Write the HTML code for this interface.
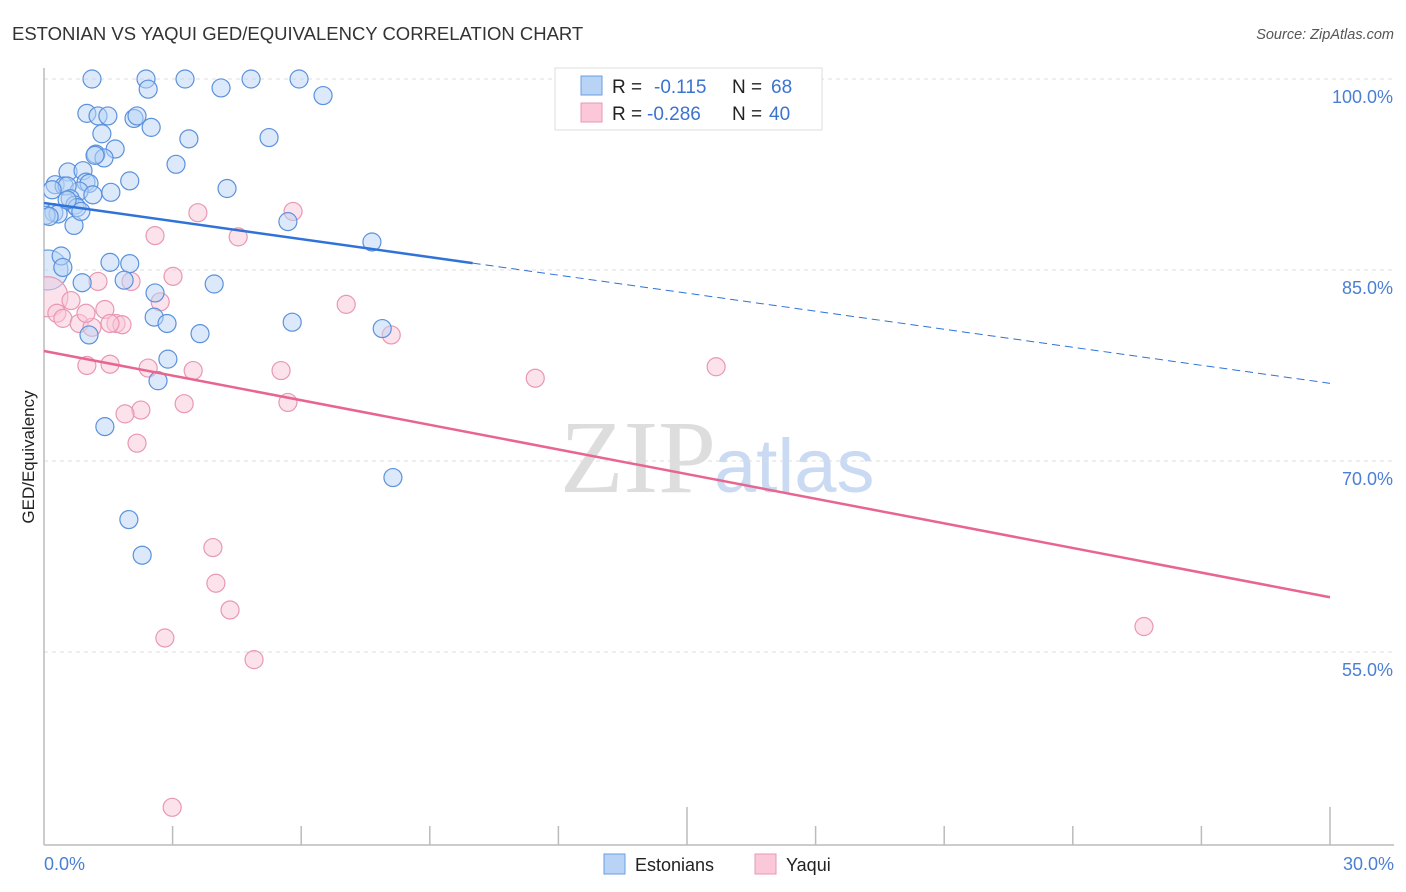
<!DOCTYPE html>
<html><head><meta charset="utf-8"><style>
body{margin:0;background:#fff;font-family:"Liberation Sans",sans-serif;}
#wrap{position:relative;width:1406px;height:892px;overflow:hidden;}
</style></head><body>
<div id="wrap">
<svg id="chart" width="1406" height="892" xmlns="http://www.w3.org/2000/svg">
<defs><clipPath id="plotclip"><rect x="44" y="40" width="1360" height="805"/></clipPath></defs>
<text x="12" y="40" font-size="18.5" fill="#333">ESTONIAN VS YAQUI GED/EQUIVALENCY CORRELATION CHART</text>
<text x="1394" y="39" font-size="14.5" fill="#555" font-style="italic" text-anchor="end">Source: ZipAtlas.com</text>
<text x="716" y="492" font-size="104" fill="#ddd" text-anchor="end" font-family="Liberation Serif,serif">ZIP</text>
<text x="714" y="492" font-size="76" fill="#c9daf2">atlas</text>
<g id="grid"></g>
<g id="ticks"></g>
<g id="pts" clip-path="url(#plotclip)"></g>
<g id="lines"></g>
<text transform="translate(34,457) rotate(-90)" font-size="17" fill="#222" text-anchor="middle">GED/Equivalency</text>
<text x="44" y="870" font-size="18" fill="#4a7fd4">0.0%</text>
<text x="1394" y="870" font-size="18" fill="#4a7fd4" text-anchor="end">30.0%</text>
<g>
<rect x="555" y="68" width="267" height="62" fill="#fff" stroke="#ddd"/>
<rect x="581" y="76" width="21" height="19" fill="#b8d3f5" stroke="#6a9de0"/>
<rect x="581" y="103" width="21" height="19" fill="#fac8d8" stroke="#e898b2"/>
<text x="612" y="93" font-size="19" fill="#222">R = </text>
<text x="654" y="93" font-size="19" fill="#3b73d0">-0.115</text>
<text x="732" y="93" font-size="19" fill="#222">N = </text>
<text x="771" y="93" font-size="19" fill="#3b73d0">68</text>
<text x="612" y="120" font-size="19" fill="#222">R = </text>
<text x="647" y="120" font-size="19" fill="#3b73d0">-0.286</text>
<text x="732" y="120" font-size="19" fill="#222">N = </text>
<text x="769" y="120" font-size="19" fill="#3b73d0">40</text>
</g>
<g>
<rect x="604" y="854" width="21" height="20" fill="#b8d3f5" stroke="#6a9de0"/>
<text x="635" y="871" font-size="18" fill="#222">Estonians</text></g>
<g>
<rect x="755" y="854" width="21" height="20" fill="#fac8d8" stroke="#e898b2"/>
<text x="786" y="871" font-size="18" fill="#222">Yaqui</text></g>
</svg>
</div>
<script>
const yTicks=[100,85,70,55];
const yTickLabels=["100.0%","85.0%","70.0%","55.0%"];
const blueX=[1.12,2.38,3.29,4.83,5.95,2.43,4.13,6.51,1.0,1.26,1.49,2.1,2.17,2.5,1.35,3.38,5.25,1.21,1.66,1.4,3.08,0.56,0.91,0.26,0.47,0.98,1.05,2.0,4.27,0.82,0.54,1.14,1.56,0.61,0.72,0.23,0.33,0.05,0.77,5.69,0.7,7.65,0.4,0.44,1.54,2.0,0.89,1.87,3.97,2.59,2.57,2.87,5.79,1.05,3.64,7.89,2.89,2.66,1.42,8.14,1.98,2.29,0.12,0.19,0.86,1.19,0.54];
const blueY=[100,100,100,100,100,99.2,99.3,98.7,97.3,97.1,97.1,96.9,97.1,96.2,95.7,95.3,95.4,94.1,94.5,93.8,93.3,92.7,92.8,91.7,91.6,91.9,91.8,92.0,91.4,91.2,91.6,90.9,91.1,90.6,90.1,89.5,89.4,89.3,89.9,88.8,88.5,87.2,86.1,85.2,85.6,85.5,84.0,84.2,83.9,83.2,81.3,80.8,80.9,79.9,80.0,80.4,78.0,76.3,72.7,68.7,65.4,62.6,89.2,91.3,89.6,94.0,90.5];
const pinkX=[3.59,5.81,2.59,4.53,3.01,1.26,2.03,0.63,2.71,7.05,1.42,0.3,0.44,0.82,1.12,1.68,1.82,8.1,1.0,1.54,2.43,3.48,5.53,11.46,15.68,3.27,5.69,2.26,1.89,2.17,3.94,4.01,4.34,2.82,4.9,2.99,25.66,0.98,1.54];
const pinkY=[89.5,89.6,87.7,87.6,84.5,84.1,84.1,82.6,82.5,82.3,81.9,81.6,81.2,80.8,80.5,80.8,80.7,79.9,77.5,77.6,77.3,77.1,77.1,76.5,77.4,74.5,74.6,74.0,73.7,71.4,63.2,60.4,58.3,56.1,54.4,42.8,57.0,81.6,80.8];
const bigBlue=[0.09,85.0];
const bigPink=[0.09,82.9];
const blueTrend=[90.26,76.1];
const pinkTrend=[78.64,59.3];
const blueSolidEnd=10.0;
const NS="http://www.w3.org/2000/svg";
function sx(v){return 44+v/30*1286;}
function sy(v){return 79+(100-v)*12.733;}
function mk(tag,attrs,parent){const e=document.createElementNS(NS,tag);for(const k in attrs)e.setAttribute(k,attrs[k]);parent.appendChild(e);return e;}
const grid=document.getElementById('grid'),ticks=document.getElementById('ticks'),pts=document.getElementById('pts'),lines=document.getElementById('lines');
yTicks.forEach((t,i)=>{
 const l=mk('line',{x1:44,x2:1394,y1:sy(t),y2:sy(t),stroke:'#ddd','stroke-dasharray':'4,4'},grid);
 
 
 const tx=mk('text',{x:1393,y:sy(t)+24,'font-size':18,fill:'#4a7fd4','text-anchor':'end'},grid);
 tx.textContent=yTickLabels[i];
 
 
});
const ax=mk('line',{x1:44,x2:1394,y1:845,y2:845,stroke:'#bbb','stroke-width':1.5},ticks);


const ay=mk('line',{x1:44,x2:44,y1:68,y2:845,stroke:'#bbb','stroke-width':1.5},ticks);


for(let i=1;i<=10;i++){
 const x=sx(i*3);
 const tk=mk('line',{x1:x,x2:x,y1:(i==5||i==10)?807:826,y2:845,stroke:'#bbb','stroke-width':1.5},ticks);
 
 
}
function dot(x,y,r,fill,stroke,name){
 const c=mk('circle',{cx:sx(x),cy:sy(y),r:r,fill:fill,'fill-opacity':0.5,stroke:stroke,'stroke-width':1.2},pts);
 
 
}
dot(bigBlue[0],bigBlue[1],20,'#b8d3f5','#6a9de0','estonian-point-large');
dot(bigPink[0],bigPink[1],20,'#fac8d8','#e898b2','yaqui-point-large');
pinkX.forEach((x,i)=>dot(x,pinkY[i],9,'#fac8d8','#e898b2','yaqui-point'));
blueX.forEach((x,i)=>dot(x,blueY[i],9,'#b8d3f5','#5b91dd','estonian-point'));
function yAt(tr,x){return tr[0]+(tr[1]-tr[0])*x/30;}
const b1=mk('line',{x1:sx(0),y1:sy(blueTrend[0]),x2:sx(blueSolidEnd),y2:sy(yAt(blueTrend,blueSolidEnd)),stroke:'#2f72d8','stroke-width':2.5},lines);


const b2=mk('line',{x1:sx(blueSolidEnd),y1:sy(yAt(blueTrend,blueSolidEnd)),x2:sx(30),y2:sy(blueTrend[1]),stroke:'#2f72d8','stroke-width':1,'stroke-dasharray':'8,5'},lines);


const p1=mk('line',{x1:sx(0),y1:sy(pinkTrend[0]),x2:sx(30),y2:sy(pinkTrend[1]),stroke:'#e8658f','stroke-width':2.5},lines);


</script>
</body></html>
